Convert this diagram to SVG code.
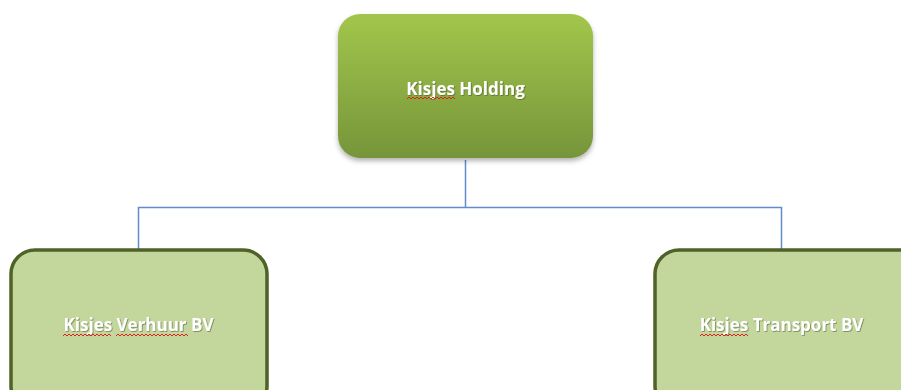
<svg xmlns="http://www.w3.org/2000/svg" width="901" height="390" viewBox="0 0 901 390">
<defs>
<linearGradient id="gTop" x1="0" y1="0" x2="0" y2="1">
<stop offset="0" stop-color="#a2c64c"/>
<stop offset="1" stop-color="#76953a"/>
</linearGradient>
<filter id="sh" x="-10%" y="-10%" width="120%" height="130%">
<feDropShadow dx="0" dy="3" stdDeviation="2.5" flood-color="#000" flood-opacity="0.3"/>
</filter>
<filter id="ts" x="-10%" y="-30%" width="120%" height="160%">
<feDropShadow dx="0.8" dy="0.8" stdDeviation="0.6" flood-color="#3a4a1a" flood-opacity="0.6"/>
</filter>
</defs>
<style>
.lbl{font-family:"Open Sans","Liberation Sans",sans-serif;font-weight:bold;font-size:17px;fill:#ffffff;text-anchor:middle}
.sub{fill:#c3d69b;stroke:#4f6228;stroke-width:3.5}
.con{fill:none;stroke:#5f8ccc;stroke-width:1.5}
.sq{fill:none;stroke:#e02020;stroke-width:1}
</style>
<g id="connectors">
<path class="con" d="M465.5 160 V207.5 M138.5 249 V207.5 H781.5 V249"/>
</g>
<g id="holding">
<rect x="338" y="14" width="255" height="144" rx="22" fill="url(#gTop)" filter="url(#sh)"/>
<text class="lbl" x="465.5" y="95" filter="url(#ts)">Kisjes Holding</text>
<path class="sq" d="M407 99 l2 -2 l2 2 l2 -2 l2 2 l2 -2 l2 2 l2 -2 l2 2 l2 -2 l2 2 l2 -2 l2 2 l2 -2 l2 2 l2 -2 l2 2 l2 -2 l2 2 l2 -2 l2 2 l2 -2 l2 2 l2 -2 l2 2"/>
</g>
<g id="verhuur">
<rect class="sub" x="11" y="250" width="256" height="160" rx="24"/>
<text class="lbl" x="138.5" y="331" filter="url(#ts)">Kisjes Verhuur BV</text>
<path class="sq" d="M63 336 l2 -2 l2 2 l2 -2 l2 2 l2 -2 l2 2 l2 -2 l2 2 l2 -2 l2 2 l2 -2 l2 2 l2 -2 l2 2 l2 -2 l2 2 l2 -2 l2 2 l2 -2 l2 2 l2 -2 l2 2 l2 -2 l2 2 M116 336 l2 -2 l2 2 l2 -2 l2 2 l2 -2 l2 2 l2 -2 l2 2 l2 -2 l2 2 l2 -2 l2 2 l2 -2 l2 2 l2 -2 l2 2 l2 -2 l2 2 l2 -2 l2 2 l2 -2 l2 2 l2 -2 l2 2 l2 -2 l2 2 l2 -2 l2 2 l2 -2 l2 2 l2 -2 l2 2 l2 -2 l2 2 l2 -2 l2 2"/>
</g>
<g id="transport">
<rect class="sub" x="655" y="250" width="270" height="160" rx="24"/>
<text class="lbl" x="781.5" y="331" filter="url(#ts)">Kisjes Transport BV</text>
<path class="sq" d="M700 336 l2 -2 l2 2 l2 -2 l2 2 l2 -2 l2 2 l2 -2 l2 2 l2 -2 l2 2 l2 -2 l2 2 l2 -2 l2 2 l2 -2 l2 2 l2 -2 l2 2 l2 -2 l2 2 l2 -2 l2 2 l2 -2 l2 2"/>
</g>
</svg>
